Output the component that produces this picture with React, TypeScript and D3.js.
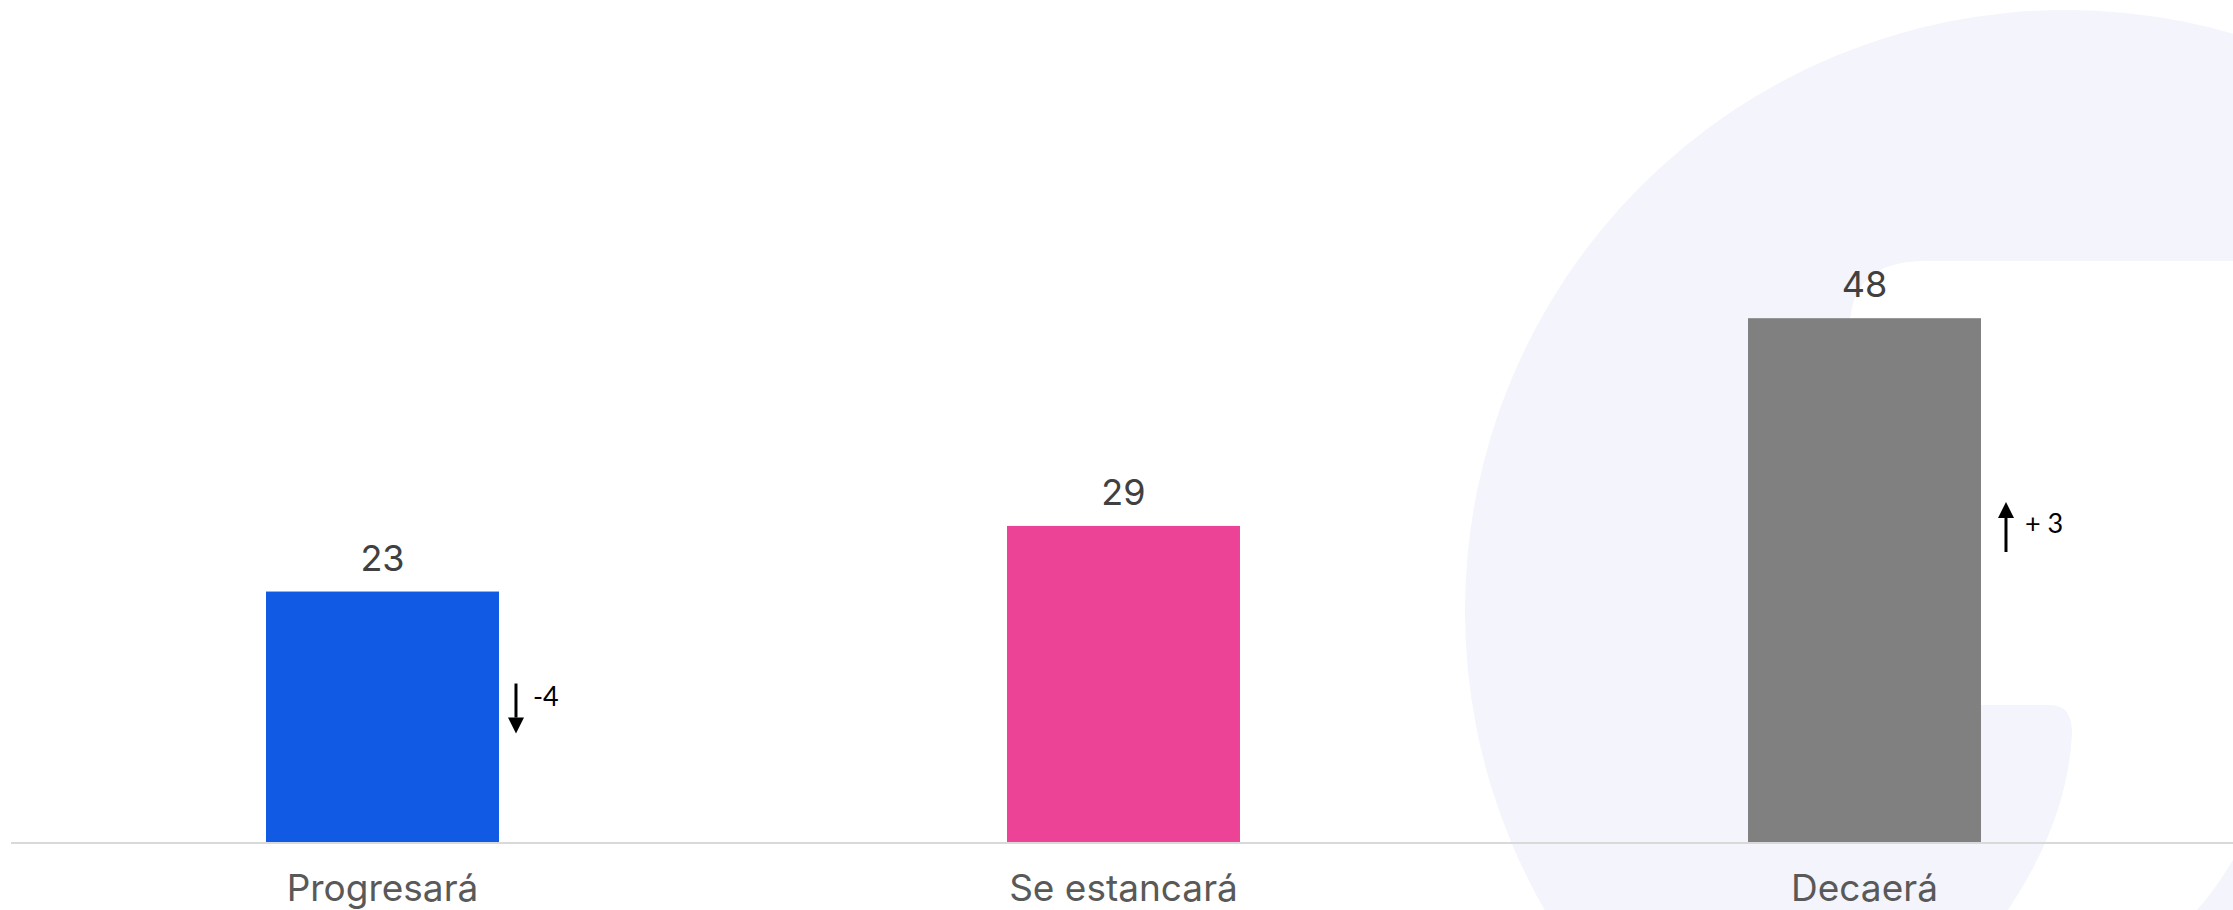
import React from 'react';
import * as d3 from 'd3';

const categories = ['Progresará', 'Se estancará', 'Decaerá'];
const values = [23, 29, 48];
const barColors = ['#105AE4', '#EC4396', '#808080'];
const changeLabels = ['-4', '', '+ 3'];
const changeDirections = [-1, 0, 1];
const changeAnchors = [12.3, 0, 28.9];

const W = 2233;
const H = 910;
const BASE_Y = 843;

export default function App() {
  const x = d3
    .scaleBand<string>()
    .domain(categories)
    .range([12, 2235])
    .paddingInner(0.6856)
    .paddingOuter(0.3428);
  const y = d3.scaleLinear().domain([0, 60]).range([BASE_Y, BASE_Y - 656]);
  const bw = x.bandwidth();

  const counter =
    'M1925,261 L2233,261 L2233,860 Q2215,890 2197,910 L2008,910 Q2068,820 2072,733 Q2072,705 2050,705 L1850,705 L1850,320 Q1855,261 1925,261 Z';

  return (
    <svg
      width={W}
      height={H}
      style={{ position: 'absolute', left: 0, top: 0, background: '#ffffff' }}
      xmlns="http://www.w3.org/2000/svg"
    >
      <rect x={0} y={0} width={W} height={H} fill="#ffffff" />
      {/* watermark */}
      <circle cx={2066} cy={611} r={601} fill="#F3F4FC" />
      <path d={counter} fill="#ffffff" />

      {/* bars */}
      {categories.map((c, i) => (
        <rect
          key={c}
          x={x(c)}
          y={y(values[i])}
          width={bw}
          height={BASE_Y - y(values[i])}
          fill={barColors[i]}
        />
      ))}

      {/* axis line */}
      <line x1={11} x2={W} y1={BASE_Y} y2={BASE_Y} stroke="#D9D9D9" strokeWidth={2} />

      {/* value labels */}
      {categories.map((c, i) => (
        <text
          key={'v' + c}
          x={(x(c) as number) + bw / 2}
          y={y(values[i]) - 21}
          textAnchor="middle"
          fontFamily="Inter, 'Noto Sans', sans-serif"
          fontSize={36}
          fill="#404040"
        >
          {values[i]}
        </text>
      ))}

      {/* category labels */}
      {categories.map((c) => (
        <text
          key={'c' + c}
          x={(x(c) as number) + bw / 2}
          y={901}
          textAnchor="middle"
          fontFamily="Inter, 'Noto Sans', sans-serif"
          fontSize={37}
          fill="#595959"
        >
          {c}
        </text>
      ))}

      {/* change annotations */}
      {categories.map((c, i) => {
        const dir = changeDirections[i];
        if (!dir) return null;
        const ax = (x(c) as number) + bw + (dir < 0 ? 17 : 25);
        const cy = y(changeAnchors[i]);
        const top = cy - 25;
        const bot = cy + 25;
        const headLen = 16;
        const headHalf = 8;
        const shaft =
          dir < 0
            ? `M${ax},${top} L${ax},${bot - headLen}`
            : `M${ax},${top + headLen} L${ax},${bot}`;
        const head =
          dir < 0
            ? `M${ax - headHalf},${bot - headLen} L${ax + headHalf},${bot - headLen} L${ax},${bot} Z`
            : `M${ax - headHalf},${top + headLen} L${ax + headHalf},${top + headLen} L${ax},${top} Z`;
        return (
          <g key={'a' + c}>
            <path d={shaft} stroke="#000" strokeWidth={3} fill="none" />
            <path d={head} fill="#000" />
            <text
              x={ax + (dir < 0 ? 17 : 19)}
              y={dir < 0 ? top + 22 : top + 31}
              fontFamily="Lato, 'Open Sans', sans-serif"
              fontSize={27}
              fill="#000"
            >
              {changeLabels[i]}
            </text>
          </g>
        );
      })}
    </svg>
  );
}
